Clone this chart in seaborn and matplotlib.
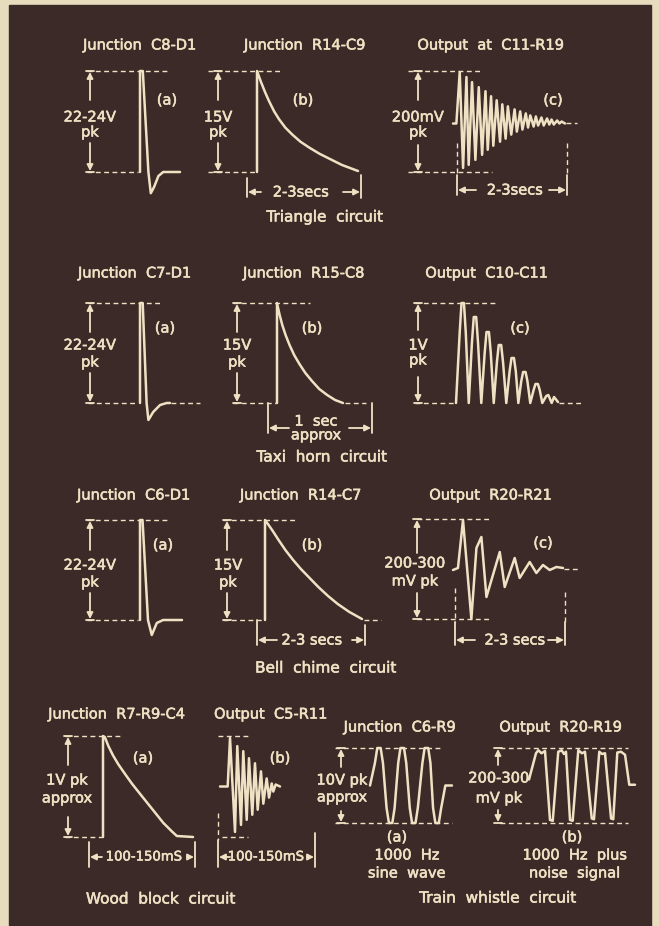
import matplotlib
matplotlib.use("Agg")
import matplotlib.pyplot as plt
import matplotlib.patheffects as pe
from matplotlib.patches import Rectangle
import seaborn as sns

# ---- traces: time and level in % of each trace window ----
spike_a1_t = [0, 0, 7, 21, 27, 35, 46, 58, 100]
spike_a1_v = [0, 100, 100, 0, -21, -15, -4, 0, 0]
spike_a2_t = [0, 0, 9, 22, 28, 44, 67, 89, 100]
spike_a2_v = [0, 100, 100, 0, -17, -9, -2, 0, 0]
spike_a3_t = [0, 0, 6, 19, 28, 40, 55, 100]
spike_a3_v = [0, 100, 100, 0, -15, -3, 0, 0]

decay_b1_t = [0, 0, 4, 8, 12, 17, 22, 28, 35, 43, 52, 62, 72, 84, 100]
decay_b1_v = [0, 100, 89, 79, 70, 60, 52, 44, 37, 30, 24, 18, 13, 7, 1]
decay_b2_t = [0, 0, 4, 8, 13, 19, 26, 34, 43, 53, 64, 76, 88, 100]
decay_b2_v = [0, 100, 88, 78, 68, 58, 48, 39, 30, 22, 14, 8, 3, 0]
decay_b3_t = [0, 0, 3, 8, 14, 21, 29, 37, 46, 55, 65, 75, 87, 100]
decay_b3_v = [0, 100, 96, 89, 80, 70, 60, 51, 42, 33, 24, 16, 8, 1]
wood_a_t = [0, 0, 2, 6, 11, 17, 24, 32, 40, 49, 58, 67, 76, 82, 100]
wood_a_v = [0, 100, 99, 90, 81, 72, 63, 53, 44, 34, 24, 14, 6, 1, 0]

ring_c1_t = [0, 3, 6, 9, 12, 14, 17, 20, 23, 26, 29, 31, 34, 36, 39, 42, 44, 47, 49, 52,
             55, 57, 60, 62, 65, 67, 69, 72, 74, 76, 79, 81, 84, 86, 88, 90, 93, 95, 97, 100]
ring_c1_v = [48, 48, 99, 4, 94, 7, 89, 12, 84, 17, 80, 22, 75, 26, 71, 30, 67, 33, 65, 37,
             62, 40, 60, 42, 58, 44, 56, 45, 55, 46, 54, 46, 53, 47, 52, 47, 51, 48, 50, 48]

pulse_c2_t = [0, 3.6, 5.4, 7.8, 9.6, 12.5,
              15.6, 17.4, 19.8, 21.6, 24.8,
              28.1, 29.9, 32.3, 34.1, 37,
              40.1, 41.9, 44.3, 46.1, 49.3,
              52.6, 54.4, 56.8, 58.6, 61.1,
              64, 65.8, 68.2, 70, 72.8,
              76.1, 77.9, 80.3, 82.1, 84.6,
              88.5, 90.5, 93.8, 96.1, 100]
pulse_c2_v = [0, 70, 100, 100, 70, 0,
              60, 86, 86, 60, 0,
              50, 71, 71, 50, 0,
              41, 58, 58, 41, 0,
              32, 45, 45, 32, 0,
              22, 31, 31, 22, 0,
              13, 19, 19, 13, 0,
              7, 8, 0, 6, 1]

ring_c3_t = [0, 4.5, 9.1, 16.7, 21.3, 25.8, 30.4, 42.5, 47, 56.1, 60.6, 69.7, 75.8, 81.8, 87.9, 94, 100]
ring_c3_v = [49, 51, 99, 0, 71, 82, 22, 67, 32, 61, 41, 57, 46, 54, 49, 52, 51]

ring_b4_t = [0, 12.8, 16.7, 25, 28.8, 35, 38.8, 44.5, 48.3, 53.8, 58.3, 62.8, 68.3, 72.2,
             77.8, 81.7, 86.2, 88.8, 92.8, 100]
ring_b4_v = [50, 50, 98, 5, 90, 12, 85, 17, 78, 22, 73, 27, 65, 33, 58, 39, 53, 45, 52, 50]

sine_c4_t = [0, 6, 8.9, 13, 15.8, 20.2, 23.1, 27.2, 30, 34.4, 37.1, 41.5, 44.2,
             48.5, 51.3, 55.5, 58.3, 63.9, 66.6, 71, 73.7, 76.9, 79.7, 83.9, 86.8, 91.9, 100]
sine_c4_v = [50, 80, 100, 100, 80, 20, 0, 0, 20, 80, 100, 100, 80,
             20, 0, 0, 20, 80, 100, 100, 80, 20, 0, 0, 20, 50, 50]

noise_d4_t = [0, 6.6, 8.8, 11.8, 15.1, 19.8, 22.4, 27.6, 30.8, 33, 34.9, 38.7, 41.2, 46.5,
              50, 52.8, 59.2, 61.3, 66.3, 68.9, 71.7, 77.4, 79.5, 83.3, 86.8, 90.6, 94.6, 100]
noise_d4_v = [58, 93, 97, 93, 96, 4, 3, 95, 97, 92, 95, 4, 3, 97,
              93, 95, 6, 5, 95, 92, 93, 6, 5, 94, 95, 91, 51, 51]

# ---- texts ----
titles = ["Junction  C8-D1", "Junction  R14-C9", "Output  at  C11-R19",
          "Junction  C7-D1", "Junction  R15-C8", "Output  C10-C11",
          "Junction  C6-D1", "Junction  R14-C7", "Output  R20-R21",
          "Junction  R7-R9-C4", "Output  C5-R11", "Junction  C6-R9", "Output  R20-R19"]
captions = ["Triangle  circuit", "Taxi  horn  circuit", "Bell  chime  circuit",
            "Wood  block  circuit", "Train  whistle  circuit"]
amp_text = [("22-24V", "pk"), ("15V", "pk"), ("200mV", "pk"),
            ("22-24V", "pk"), ("15V", "pk"), ("1V", "pk"),
            ("22-24V", "pk"), ("15V", "pk"), ("200-300", "mV pk"),
            ("1V pk", "approx"), ("10V pk", "approx"), ("200-300", "mV pk")]
panel_tags = ["(a)", "(b)", "(c)", "(a)", "(b)", "(c)", "(a)", "(b)", "(c)",
              "(a)", "(b)", "(a)", "(b)"]
time_text = ["2-3secs", "2-3secs", "1  sec\napprox", "2-3 secs", "2-3 secs",
             "100-150mS", "100-150mS"]
notes = ["1000  Hz", "sine  wave", "1000  Hz  plus", "noise  signal"]

# ---- layout (pixels of the 659x926 page) ----
W, H = 659, 926
FG = "#efe2c4"
BG = "#3b2a27"

traces = [
    ((140, 180, 71, 172), spike_a1_t, spike_a1_v),
    ((257, 358, 71, 172), decay_b1_t, decay_b1_v),
    ((453, 565, 71, 172), ring_c1_t, ring_c1_v),
    ((140, 170, 303, 403), spike_a2_t, spike_a2_v),
    ((277, 343, 303, 403), decay_b2_t, decay_b2_v),
    ((456, 558, 303, 403), pulse_c2_t, pulse_c2_v),
    ((140, 182, 520, 620), spike_a3_t, spike_a3_v),
    ((265, 362, 520, 620), decay_b3_t, decay_b3_v),
    ((453, 563, 519, 619), ring_c3_t, ring_c3_v),
    ((103, 193, 736, 837), wood_a_t, wood_a_v),
    ((220, 280, 736, 837), ring_b4_t, ring_b4_v),
    ((370, 452, 748, 823), sine_c4_t, sine_c4_v),
    ((529, 635, 748, 823), noise_d4_t, noise_d4_v),
]
title_pos = [(140, 45), (305, 45), (491, 45), (135, 273), (304, 273), (487, 273),
             (134, 495), (301, 495), (491, 495), (117, 714), (271, 714), (400, 727), (561, 727)]
caption_pos = [(325, 217), (322, 457), (326, 668), (161, 899), (498, 898)]
tag_pos = [(167, 100), (303, 100), (553, 100), (165, 328), (312, 328), (520, 328),
           (163, 545), (312, 545), (543, 543), (143, 758), (280, 758), (397, 837), (572, 837)]
# x, top, bottom, end of top shaft, start of bottom shaft, label rows y
amp_pos = [(90, 71, 172, 100, 143, 117, 132), (218, 71, 172, 100, 143, 117, 132),
           (418, 71, 172, 100, 145, 117, 132), (90, 303, 403, 332, 373, 345, 362),
           (237, 303, 403, 332, 373, 345, 362), (418, 303, 403, 330, 377, 345, 360),
           (90, 520, 620, 550, 593, 565, 582), (227, 520, 620, 550, 593, 565, 582),
           (417, 519, 619, 553, 593, 563, 581), (68, 736, 837, 765, 817, 780, 798),
           (341, 748, 823, 767, 811, 780, 797), (498, 748, 823, 765, 810, 778, 798)]
amp_text_x = [90, 218, 418, 90, 237, 418, 90, 228, 415, 67, 342, 499]
dashes = [(87, 168, 71), (87, 138, 172), (208, 280, 71), (208, 256, 172), (408, 482, 71),
          (408, 492, 172), (566, 577, 123),
          (88, 160, 303), (88, 138, 403), (171, 200, 403), (233, 310, 303), (233, 276, 403),
          (345, 366, 403), (415, 497, 303), (415, 455, 403), (559, 581, 403),
          (87, 170, 520), (87, 138, 620), (223, 297, 520), (223, 264, 620), (364, 381, 620),
          (417, 490, 519), (417, 490, 619), (564, 578, 569),
          (65, 122, 736), (65, 102, 837), (218, 248, 736), (222, 248, 837),
          (335, 440, 748), (335, 452, 823), (500, 628, 748), (500, 628, 823)]
vdashes = [(457, 143, 175), (567, 143, 175), (455, 588, 622), (565, 592, 622), (218, 813, 840)]
# left tick x, right tick x, arrow y, left tick span, right tick span, arrow lengths, text x, size
time_pos = [(247, 361, 192, (178, 197), (175, 198), (14, 18), 301, 10.5),
            (457, 567, 190, (175, 195), (175, 195), (19, 18), 515, 10.5),
            (268, 372, 428, (403, 433), (403, 433), (21, 23), 316, 10.5),
            (257, 365, 640, (620, 645), (625, 645), (20, 13), 312, 10.5),
            (455, 565, 640, (622, 645), (622, 645), (20, 17), 515, 10.5),
            (89, 195, 857, (842, 867), (842, 867), (13, 8), 144, 9.5),
            (218, 315, 857, (840, 867), (833, 867), (12, 8), 266, 9.5)]
note_pos = [(407, 855), (407, 873), (575, 855), (575, 873)]

sns.set_theme(style="white")
plt.rcParams["font.family"] = ["DejaVu Sans"]

fig = plt.figure(figsize=(W / 100, H / 100), dpi=100, facecolor="#e8dcbf")
ax = fig.add_axes([0, 0, 1, 1])
ax.set_xlim(0, W)
ax.set_ylim(H, 0)
ax.axis("off")
ax.add_patch(Rectangle((9, 5), 642, 925, color=BG, zorder=0))

# slightly heavier lettering, like the printed original
bold = [pe.withStroke(linewidth=0.4, foreground=FG)]
txt = dict(color=FG, ha="center", va="center", fontsize=10.5, path_effects=bold)

# waveforms, each in its own little axes
for (x0, x1, yt, yb), t, v in traces:
    a = fig.add_axes([x0 / W, 1 - yb / H, (x1 - x0) / W, (yb - yt) / H])
    a.patch.set_visible(False)
    sns.lineplot(x=t, y=v, ax=a, sort=False, estimator=None, color=FG, lw=1.8)
    a.set_xlim(0, 100)
    a.set_ylim(0, 100)
    a.axis("off")
    for ln in a.lines:
        ln.set_clip_on(False)
        ln.set_solid_joinstyle("round")
        ln.set_solid_capstyle("round")

for x0, x1, y in dashes:
    ax.plot([x0, x1], [y, y], color=FG, lw=1.0, ls=(0, (3.5, 2.5)))
for x, y0, y1 in vdashes:
    ax.plot([x, x], [y0, y1], color=FG, lw=1.0, ls=(0, (3.5, 2.5)))

arrow = dict(arrowstyle="-|>", color=FG, lw=1.3, mutation_scale=9, shrinkA=0, shrinkB=0)

for (x, yt, yb, g1, g2, ly1, ly2), (s1, s2), tx in zip(amp_pos, amp_text, amp_text_x):
    ax.plot([x - 4, x + 4], [yt, yt], color=FG, lw=1.3)
    ax.plot([x - 4, x + 4], [yb, yb], color=FG, lw=1.3)
    ax.annotate("", xy=(x, yt + 1), xytext=(x, g1), arrowprops=arrow)
    ax.annotate("", xy=(x, yb - 1), xytext=(x, g2), arrowprops=arrow)
    ax.text(tx, ly1, s1, **txt)
    ax.text(tx, ly2, s2, **txt)

for (xl, xr, y, sl, sr, (al, ar), tx, fs), s in zip(time_pos, time_text):
    ax.plot([xl, xl], sl, color=FG, lw=1.3)
    ax.plot([xr, xr], sr, color=FG, lw=1.3)
    ax.annotate("", xy=(xl + 1, y), xytext=(xl + al, y), arrowprops=arrow)
    ax.annotate("", xy=(xr - 1, y), xytext=(xr - ar, y), arrowprops=arrow)
    ax.text(tx, y, s, linespacing=0.9, **{**txt, "fontsize": fs})

for s, (x, y) in zip(titles, title_pos):
    ax.text(x, y, s, **txt)
for s, (x, y) in zip(captions, caption_pos):
    ax.text(x, y, s, **{**txt, "fontsize": 11})
for s, (x, y) in zip(panel_tags, tag_pos):
    ax.text(x, y, s, **txt)
for s, (x, y) in zip(notes, note_pos):
    ax.text(x, y, s, **txt)

fig.savefig("out.png", dpi=100, facecolor=fig.get_facecolor())
